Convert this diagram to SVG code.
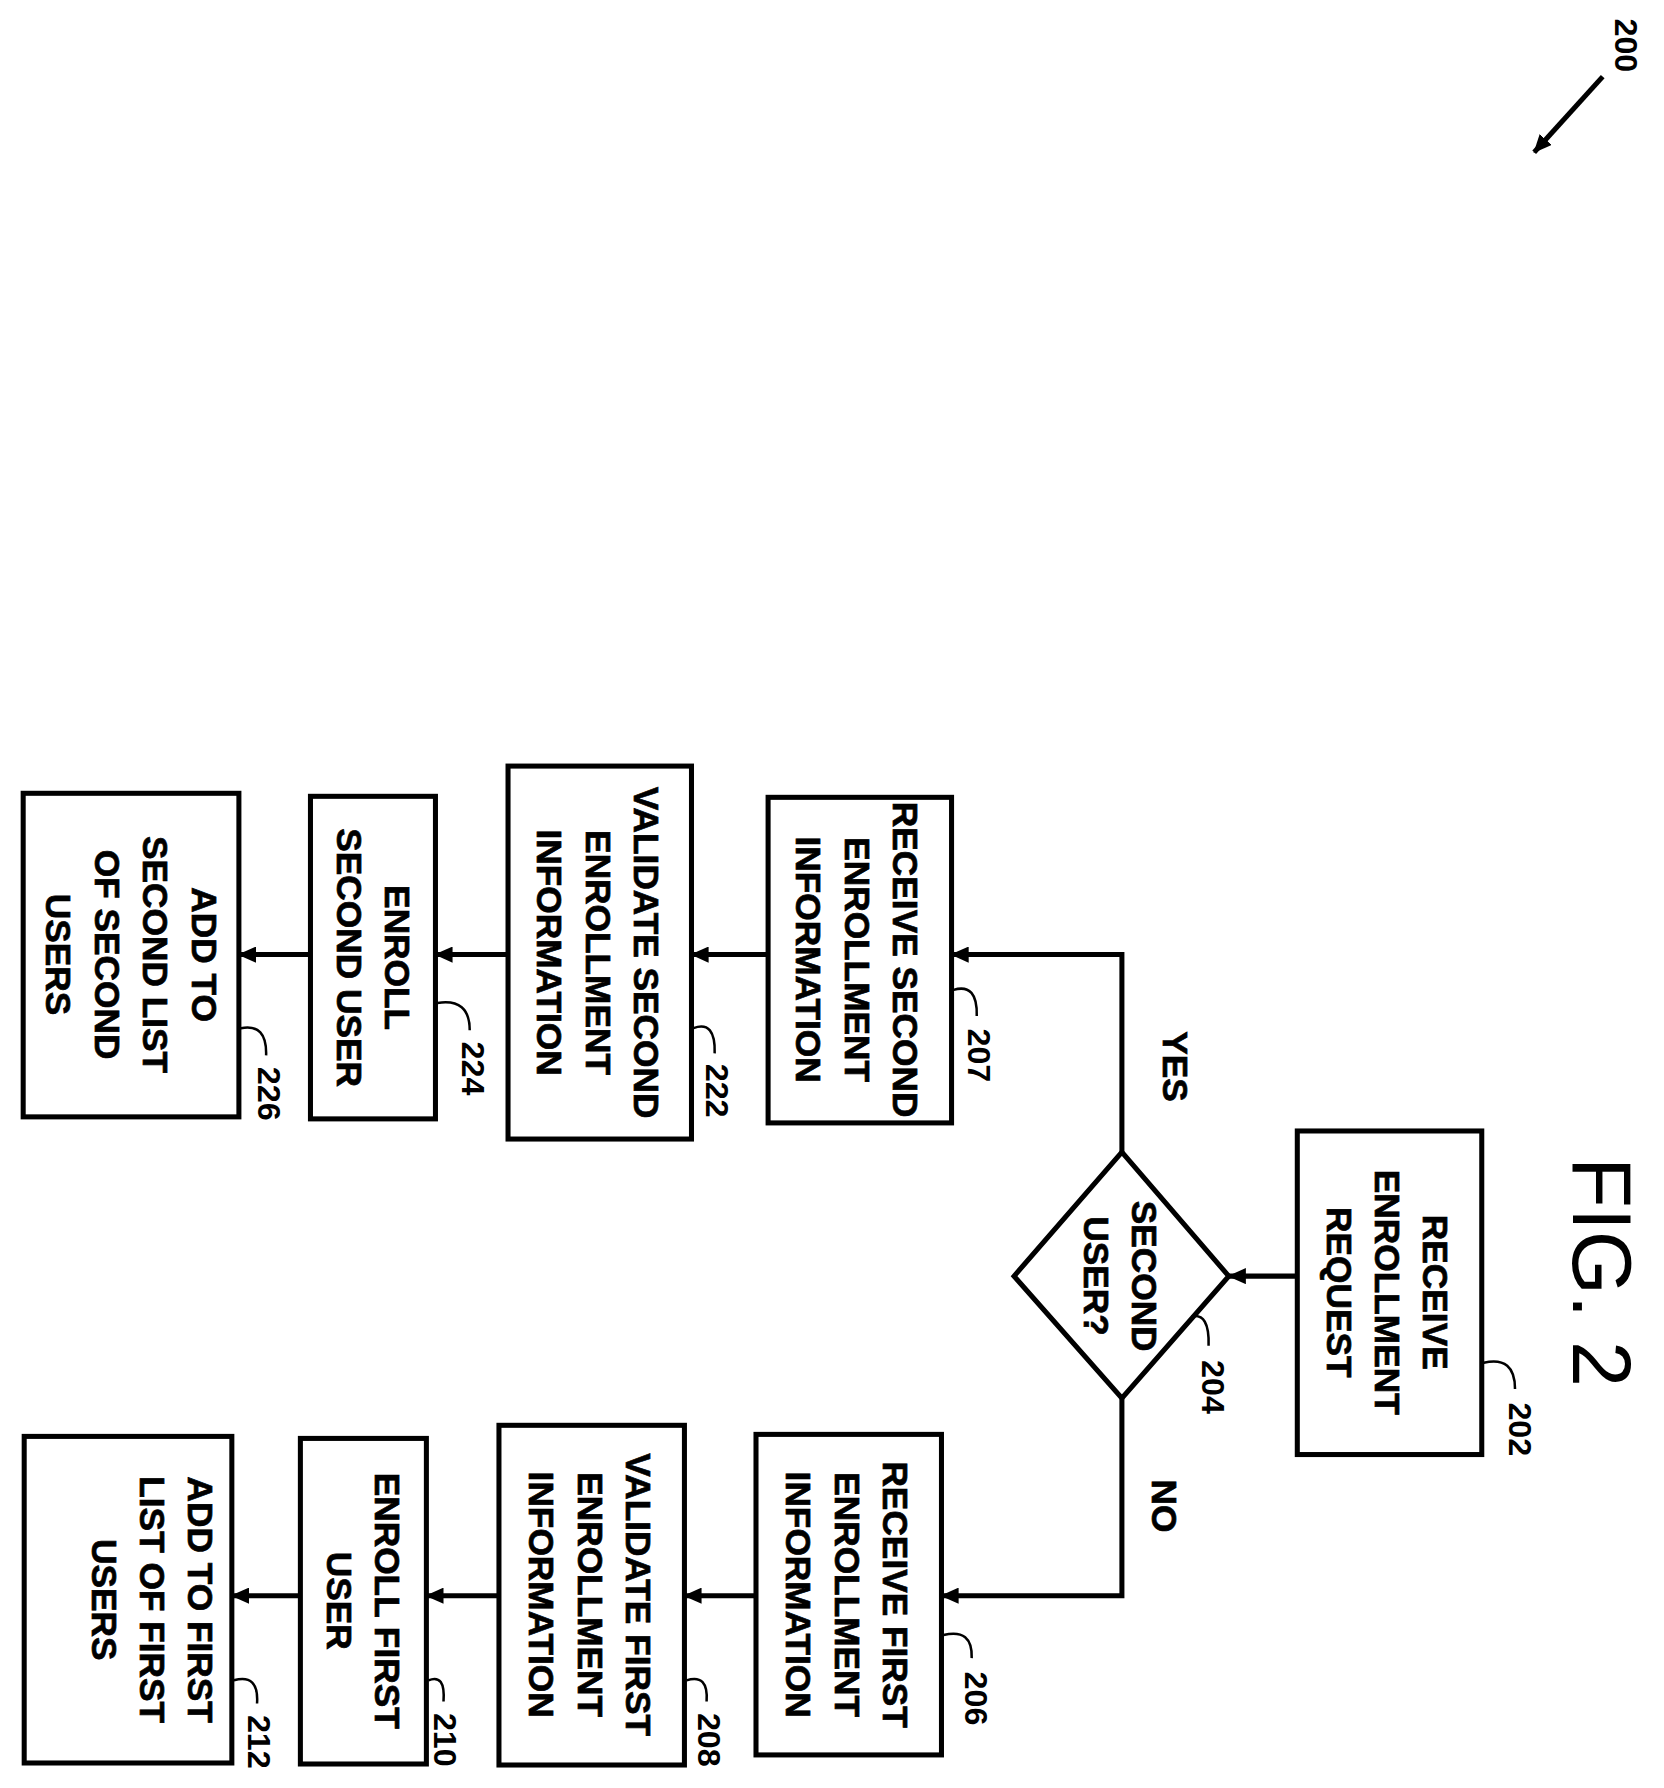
<svg xmlns="http://www.w3.org/2000/svg" width="1664" height="1788" viewBox="0 0 1664 1788">
<defs>
<style>
.b{fill:#fff;stroke:#000;stroke-width:5}
.t{font-family:"Liberation Sans",Arial,sans-serif;font-weight:bold;font-size:35px;text-anchor:middle;stroke:#000;stroke-width:0.7}
.n{font-family:"Liberation Sans",Arial,sans-serif;font-weight:bold;font-size:32px;text-anchor:middle}
.c{fill:none;stroke:#000;stroke-width:5}
.l{fill:none;stroke:#000;stroke-width:2.5}
</style>
<marker id="h" markerWidth="18" markerHeight="16" refX="17" refY="8" orient="auto" markerUnits="userSpaceOnUse"><path d="M0,0L18,8L0,16z"/></marker>
</defs>
<rect width="1664" height="1788" fill="#fff"/>
<g transform="scale(1.008)">
<g id="n202"><rect class="b" x="1287" y="1122" width="183" height="321"/><g transform="translate(1376,1282) rotate(90)"><text class="t"><tspan x="0" y="-36">RECEIVE</tspan><tspan x="0" y="12">ENROLLMENT</tspan><tspan x="0" y="60">REQUEST</tspan></text></g></g>
<g id="n204"><path class="b" d="M1113,1143L1219,1266L1113,1387L1006,1266Z"/><g transform="translate(1111,1266) rotate(90)"><text class="t"><tspan x="0" y="-12">SECOND</tspan><tspan x="0" y="36">USER?</tspan></text></g></g>
<g id="n207"><rect class="b" x="762" y="791" width="182" height="323"/><g transform="translate(850,952) rotate(90)"><text class="t"><tspan x="0" y="-36">RECEIVE SECOND</tspan><tspan x="0" y="12">ENROLLMENT</tspan><tspan x="0" y="60">INFORMATION</tspan></text></g></g>
<g id="n222"><rect class="b" x="504" y="760" width="182" height="370"/><g transform="translate(593,945) rotate(90)"><text class="t"><tspan x="0" y="-36">VALIDATE SECOND</tspan><tspan x="0" y="12">ENROLLMENT</tspan><tspan x="0" y="60">INFORMATION</tspan></text></g></g>
<g id="n224"><rect class="b" x="308" y="790" width="124" height="320"/><g transform="translate(370,950) rotate(90)"><text class="t"><tspan x="0" y="-12">ENROLL</tspan><tspan x="0" y="36">SECOND USER</tspan></text></g></g>
<g id="n226"><rect class="b" x="23" y="787" width="214" height="321"/><g transform="translate(130,947) rotate(90)"><text class="t"><tspan x="0" y="-60">ADD TO</tspan><tspan x="0" y="-12">SECOND LIST</tspan><tspan x="0" y="36">OF SECOND</tspan><tspan x="0" y="84">USERS</tspan></text></g></g>
<g id="n206"><rect class="b" x="750" y="1423" width="184" height="318"/><g transform="translate(840,1582) rotate(90)"><text class="t"><tspan x="0" y="-36">RECEIVE FIRST</tspan><tspan x="0" y="12">ENROLLMENT</tspan><tspan x="0" y="60">INFORMATION</tspan></text></g></g>
<g id="n208"><rect class="b" x="495" y="1414" width="184" height="337"/><g transform="translate(585,1582) rotate(90)"><text class="t"><tspan x="0" y="-36">VALIDATE FIRST</tspan><tspan x="0" y="12">ENROLLMENT</tspan><tspan x="0" y="60">INFORMATION</tspan></text></g></g>
<g id="n210"><rect class="b" x="298" y="1427" width="125" height="323"/><g transform="translate(360,1588) rotate(90)"><text class="t"><tspan x="0" y="-12">ENROLL FIRST</tspan><tspan x="0" y="36">USER</tspan></text></g></g>
<g id="n212"><rect class="b" x="24" y="1425" width="206" height="324"/><g transform="translate(127,1587) rotate(90)"><text class="t"><tspan x="0" y="-60">ADD TO FIRST</tspan><tspan x="0" y="-12">LIST OF FIRST</tspan><tspan x="0" y="36">USERS</tspan></text></g></g>
<g id="connectors">
<path class="c" d="M1287,1266H1219" marker-end="url(#h)"/>
<path class="c" d="M1113,1143V947H944" marker-end="url(#h)"/>
<path class="c" d="M1113,1387V1583H934" marker-end="url(#h)"/>
<path class="c" d="M762,947H686" marker-end="url(#h)"/>
<path class="c" d="M504,947H432" marker-end="url(#h)"/>
<path class="c" d="M308,947H237" marker-end="url(#h)"/>
<path class="c" d="M750,1583H679" marker-end="url(#h)"/>
<path class="c" d="M495,1583H423" marker-end="url(#h)"/>
<path class="c" d="M298,1583H230" marker-end="url(#h)"/>
</g>
<g id="labels">
<g transform="translate(1166,1058) rotate(90)"><text class="t" y="12">YES</text></g>
<g transform="translate(1155,1494) rotate(90)"><text class="t" y="12">NO</text></g>
<g transform="translate(1590,1262) rotate(90)"><text font-family="Liberation Sans,Arial,sans-serif" font-size="82" text-anchor="middle" y="29">FIG. 2</text></g>
<g transform="translate(1613,45) rotate(90)"><text class="n" y="11">200</text></g>
<path class="c" d="M1590,76L1522,151" marker-end="url(#h)"/>
<g transform="translate(1508,1418) rotate(90)"><text class="n" y="11">202</text></g><path class="l" d="M1472,1352Q1503,1345 1503,1378"/>
<g transform="translate(1203,1376) rotate(90)"><text class="n" y="11">204</text></g><path class="l" d="M1182,1306Q1200,1302 1199,1335"/>
<g transform="translate(968,1685) rotate(90)"><text class="n" y="11">206</text></g><path class="l" d="M936,1622Q965,1615 964,1645"/>
<g transform="translate(971,1047) rotate(90)"><text class="n" y="11">207</text></g><path class="l" d="M946,982Q970,975 969,1008"/>
<g transform="translate(703,1726) rotate(90)"><text class="n" y="11">208</text></g><path class="l" d="M681,1667Q703,1660 701,1688"/>
<g transform="translate(442,1726) rotate(90)"><text class="n" y="11">210</text></g><path class="l" d="M425,1667Q442,1660 440,1688"/>
<g transform="translate(257,1728) rotate(90)"><text class="n" y="11">212</text></g><path class="l" d="M232,1667Q257,1660 255,1690"/>
<g transform="translate(711,1082) rotate(90)"><text class="n" y="11">222</text></g><path class="l" d="M688,1020Q710,1012 709,1045"/>
<g transform="translate(469,1060) rotate(90)"><text class="n" y="11">224</text></g><path class="l" d="M434,995Q466,990 466,1022"/>
<g transform="translate(267,1085) rotate(90)"><text class="n" y="11">226</text></g><path class="l" d="M239,1020Q265,1015 264,1047"/>
</g>
</g>
</svg>
